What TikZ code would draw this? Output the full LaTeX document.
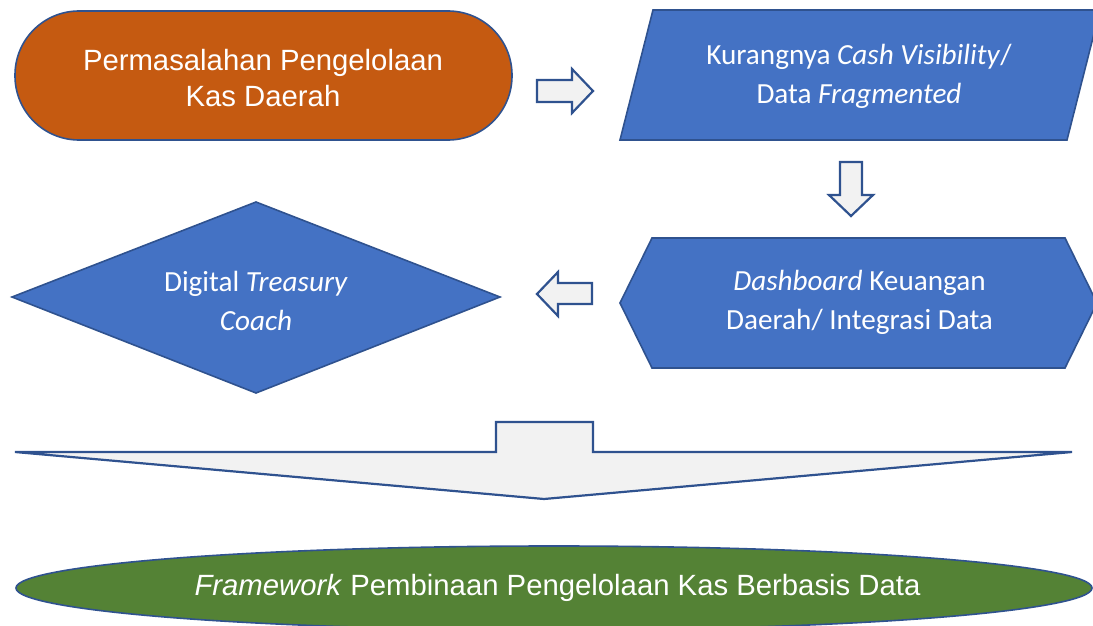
\documentclass[tikz,border=0pt]{standalone}
\usepackage{fontspec}
\setmainfont{Liberation Sans}
\newfontfamily\calibri{Carlito}
\definecolor{orng}{HTML}{C55A11}
\definecolor{blu}{HTML}{4472C4}
\definecolor{edgeblue}{HTML}{2F528F}
\definecolor{grn}{HTML}{548235}
\definecolor{pale}{HTML}{F2F2F2}
\begin{document}
\begin{tikzpicture}[x=1pt,y=-1pt,
  shapeline/.style={draw=edgeblue, line width=1.6pt, line join=miter},
  blockarrow/.style={draw=edgeblue, fill=pale, line width=2.2pt, line join=miter},
  arialtxt/.style={text=white, align=center, inner sep=0pt, font=\fontsize{29.3}{36.5}\selectfont},
  calibtxt/.style={text=white, align=center, inner sep=0pt, font=\calibri\fontsize{29.2}{39}\selectfont}]
\useasboundingbox (0,0) rectangle (1093,626);
\clip (0,0) rectangle (1093,626);

% Stadium (terminator)
\node[shapeline, fill=orng, rectangle, rounded corners=64pt, minimum width=497pt, minimum height=129pt, inner sep=0pt] (start) at (263.5,75.5) {};
\node[arialtxt] (starttxt) at (263,78) {Permasalahan Pengelolaan\\Kas Daerah};

% Parallelogram
\filldraw[shapeline, fill=blu] (653,10) -- (1100,10) -- (1067,140) -- (620,140) -- cycle;
\node[calibtxt] (para) at (859,76) {Kurangnya \textit{Cash Visibility}/\\Data \textit{Fragmented}};

% Hexagon
\filldraw[shapeline, fill=blu] (620,303) -- (652,238) -- (1065,238) -- (1097,303) -- (1065,368) -- (652,368) -- cycle;
\node[calibtxt] (hexa) at (859.5,302) {\textit{Dashboard} Keuangan\\Daerah/ Integrasi Data};

% Diamond
\filldraw[shapeline, fill=blu] (12,297) -- (256,202) -- (500,297) -- (256,393) -- cycle;
\node[calibtxt] (diam) at (256,301) {Digital \textit{Treasury}\\\textit{Coach}};

% Ellipse
\filldraw[shapeline, fill=grn] (554,588) ellipse [x radius=538, y radius=42];
\node[arialtxt] (goal) at (557.5,588) {\textit{Framework} Pembinaan Pengelolaan Kas Berbasis Data};

% Block arrows
\coordinate (a1) at (537,91);
\filldraw[blockarrow] (a1) ++(0,-11) -- (572,80) -- (572,69) -- (593,91) -- (572,113) -- (572,102) -- (537,102) -- cycle;

\coordinate (a2) at (851,162);
\filldraw[blockarrow] (840,162) -- (862,162) -- (862,195) -- (873,195) -- (851,216) -- (829,195) -- (840,195) -- cycle;

\coordinate (a3) at (537,294);
\filldraw[blockarrow] (592,283) -- (592,304) -- (558,304) -- (558,316) -- (537,294) -- (558,272) -- (558,283) -- cycle;

\coordinate (a4) at (544,499);
\filldraw[blockarrow] (496,422) -- (593,422) -- (593,452) -- (1072,452) -- (544,499) -- (15,452) -- (496,452) -- cycle;
\end{tikzpicture}
\end{document}
